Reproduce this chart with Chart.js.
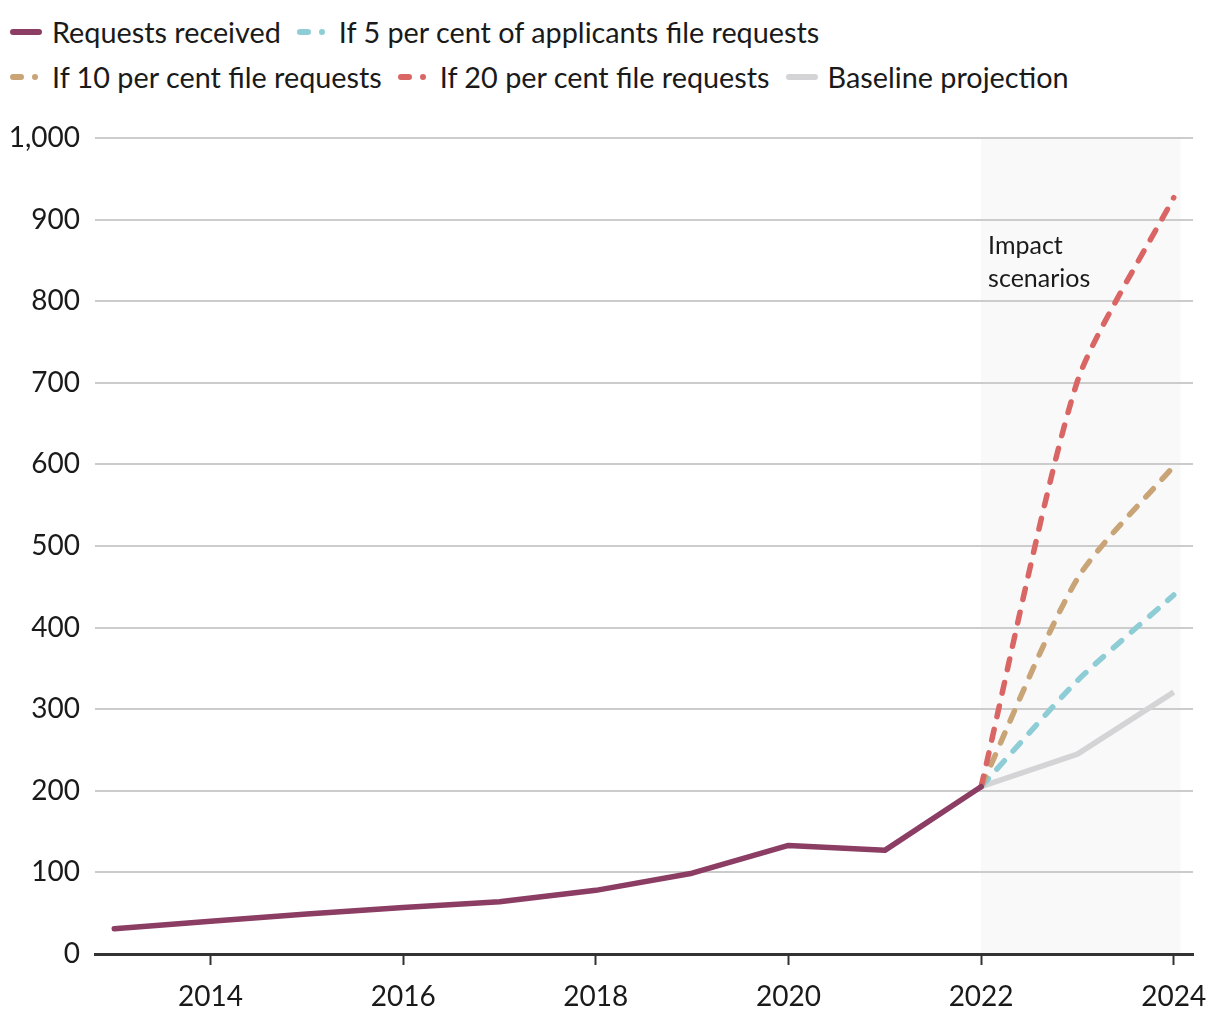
<!DOCTYPE html>
<html>
<head>
<meta charset="utf-8">
<script src="https://cdn.jsdelivr.net/npm/chart.js@4"></script>
<style>
  html, body { margin:0; padding:0; background:#fff; }
  body { width:1220px; height:1020px; position:relative; overflow:hidden; font-family: Lato, "Noto Sans", sans-serif; color:#1a1a1a; }
  #legend { position:absolute; left:10px; top:9px; }
  .row { display:flex; align-items:center; height:45px; }
  .item { display:flex; align-items:center; margin-right:16px; font-size:28.8px; white-space:nowrap; }
  .item svg { margin-right:10px; }
  #wrap { position:absolute; left:0; top:110px; width:1220px; height:910px; }
</style>
</head>
<body>
<div id="legend"></div>
<div id="wrap"><canvas id="c"></canvas></div>
<script>
// ---- data ----
const years = [2013, 2014, 2015, 2016, 2017, 2018, 2019, 2020, 2021, 2022];
const requestsReceived = [31, 40, 49, 57, 64, 78, 99, 133, 127, 205];
const scenarioYears = [2022, 2023, 2024];
const scenario5 = [205, 335, 440];
const scenario10 = [205, 460, 598];
const scenario20 = [205, 702, 927];
const baselineProjection = [205, 245, 321];
const xTickYears = [2014, 2016, 2018, 2020, 2022, 2024];
const seriesLabels = [
  'Requests received',
  'If 5 per cent of applicants file requests',
  'If 10 per cent file requests',
  'If 20 per cent file requests',
  'Baseline projection'
];
const annotationLines = ['Impact', 'scenarios'];
const shadeFrom = 2022, shadeTo = 2024.07;

const colors = {
  received: '#8b3d63',
  s5: '#8fcdd6',
  s10: '#c9a477',
  s20: '#d96565',
  base: '#d4d4d6'
};

function pts(xs, ys) { return xs.map((x, i) => ({ x: x, y: ys[i] })); }

const datasets = [
  { label: seriesLabels[0], data: pts(years, requestsReceived), borderColor: colors.received, borderWidth: 5.5, tension: 0, order: 0, borderJoinStyle: 'round', borderCapStyle: 'round' },
  { label: seriesLabels[1], data: pts(scenarioYears, scenario5), borderColor: colors.s5, borderWidth: 5.5, borderDash: [11, 13], borderCapStyle: 'round', tension: 0.2, order: 3, dashed: true },
  { label: seriesLabels[2], data: pts(scenarioYears, scenario10), borderColor: colors.s10, borderWidth: 5.5, borderDash: [11, 13], borderCapStyle: 'round', tension: 0.25, order: 2, dashed: true },
  { label: seriesLabels[3], data: pts(scenarioYears, scenario20), borderColor: colors.s20, borderWidth: 5.5, borderDash: [11, 13], borderCapStyle: 'round', tension: 0.22, order: 1, dashed: true },
  { label: seriesLabels[4], data: pts(scenarioYears, baselineProjection), borderColor: colors.base, borderWidth: 5.5, tension: 0, order: 4, borderJoinStyle: 'round' }
];

// ---- HTML legend ----
const legend = document.getElementById('legend');
const rowBreakAfter = 1;
let row = document.createElement('div'); row.className = 'row'; legend.appendChild(row);
datasets.forEach((ds, i) => {
  const it = document.createElement('div'); it.className = 'item';
  const svgNS = 'http://www.w3.org/2000/svg';
  const svg = document.createElementNS(svgNS, 'svg');
  svg.setAttribute('width', '32'); svg.setAttribute('height', '12');
  const ln = document.createElementNS(svgNS, 'line');
  ln.setAttribute('x1', '3'); ln.setAttribute('x2', '29');
  ln.setAttribute('y1', '6'); ln.setAttribute('y2', '6');
  ln.setAttribute('stroke', ds.borderColor); ln.setAttribute('stroke-width', '6');
  ln.setAttribute('stroke-linecap', 'round');
  if (ds.dashed) { ln.setAttribute('stroke-dasharray', '8 14 0 30'); }
  svg.appendChild(ln); it.appendChild(svg);
  const sp = document.createElement('span'); sp.textContent = ds.label; it.appendChild(sp);
  row.appendChild(it);
  if (i === rowBreakAfter) { row = document.createElement('div'); row.className = 'row'; legend.appendChild(row); }
});

// ---- plugins ----
const shadePlugin = {
  id: 'shade',
  beforeDraw(chart) {
    const { ctx, chartArea, scales } = chart;
    const x1 = scales.x.getPixelForValue(shadeFrom), x2 = scales.x.getPixelForValue(shadeTo);
    ctx.save();
    ctx.fillStyle = '#f9f9f9';
    ctx.fillRect(x1, chartArea.top, x2 - x1, chartArea.bottom - chartArea.top);
    ctx.restore();
  },
  afterDatasetsDraw(chart) {
    const { ctx, chartArea, scales } = chart;
    const x = scales.x.getPixelForValue(shadeFrom) + 7;
    ctx.save();
    ctx.fillStyle = '#1a1a1a';
    ctx.font = '25px Lato, "Noto Sans", sans-serif';
    ctx.textBaseline = 'alphabetic';
    ctx.textAlign = 'left';
    annotationLines.forEach((t, i) => ctx.fillText(t, x, chartArea.top + 116 + i * 33));
    ctx.restore();
  }
};

Chart.defaults.font.family = 'Lato, "Noto Sans", sans-serif';
Chart.defaults.color = '#1a1a1a';

new Chart(document.getElementById('c'), {
  type: 'line',
  data: { datasets: datasets },
  options: {
    responsive: true,
    maintainAspectRatio: false,
    animation: false,
    layout: { padding: { top: 28, right: 27, left: 0, bottom: 0 } },
    elements: { point: { radius: 0, hoverRadius: 0 } },
    plugins: { legend: { display: false }, tooltip: { enabled: false } },
    scales: {
      x: {
        type: 'linear',
        min: 2012.8,
        max: 2024.2,
        afterBuildTicks(scale) { scale.ticks = xTickYears.map(v => ({ value: v })); },
        afterFit(scale) { scale.height = 66; scale.paddingLeft = 0; scale.paddingRight = 0; },
        ticks: { font: { size: 28 }, padding: 15, callback: v => String(v), maxRotation: 0, autoSkip: false },
        grid: { drawOnChartArea: false, drawTicks: true, tickLength: 11, tickWidth: 2, tickColor: '#333' },
        border: { display: true, color: '#333', width: 3 }
      },
      y: {
        min: 0,
        max: 1000,
        afterFit(scale) { scale.width = 95; scale.paddingTop = 0; scale.paddingBottom = 0; },
        ticks: { stepSize: 100, font: { size: 28 }, padding: 15 },
        grid: { color: '#cccccc', lineWidth: 2, drawTicks: false },
        border: { display: false }
      }
    }
  },
  plugins: [shadePlugin]
});
</script>
</body>
</html>
